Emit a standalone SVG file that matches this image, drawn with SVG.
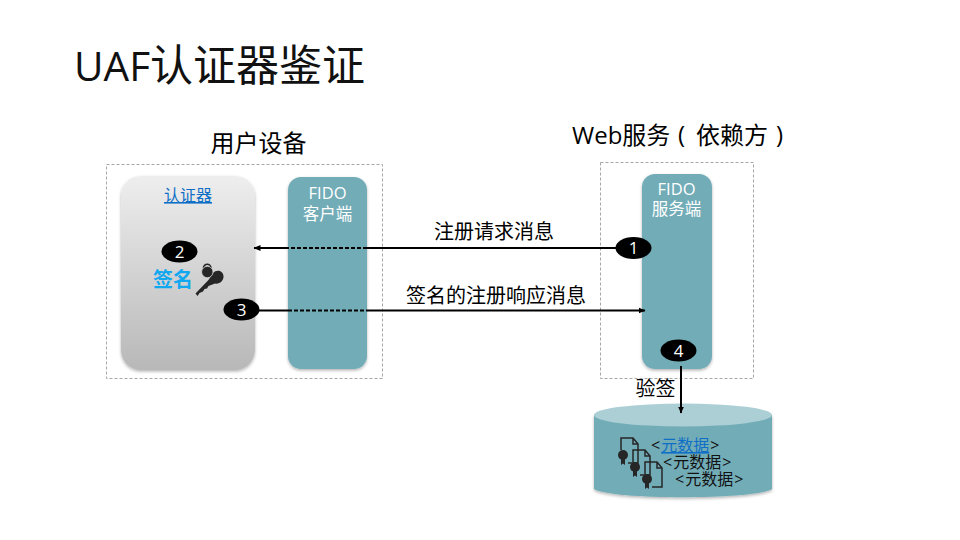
<svg xmlns="http://www.w3.org/2000/svg" width="960" height="540" viewBox="0 0 960 540">
<style>
text{font-family:"Open Sans","Noto Sans CJK SC",sans-serif}
.box{fill:none;stroke:#a6a6a6;stroke-width:1;stroke-dasharray:3 2}
.teal{fill:#72acb7}
.wt{fill:#fff;font-size:16.500px;text-anchor:middle}
.lbl{fill:#000;font-size:20px;text-anchor:middle}
.hd{fill:#000;font-size:24px}
.num{fill:#fff;font-size:17px;text-anchor:middle}
.meta{fill:#111;font-size:16px}
.link{fill:#0f6fc6;text-decoration:underline}
.ln{stroke:#000;stroke-width:2;fill:none}
.dash{stroke:#000;stroke-width:2;stroke-dasharray:4 2;fill:none}
.doc{fill:none;stroke:#262626;stroke-width:1.500}
</style>
<defs>
<linearGradient id="g" x1="0" y1="0" x2="0" y2="1"><stop offset="0" stop-color="#eeeeee"/><stop offset="1" stop-color="#b8b8b8"/></linearGradient>
<filter id="s" x="-10%" y="-10%" width="120%" height="120%"><feDropShadow dx="0" dy="1.500" stdDeviation="1.500" flood-color="#000" flood-opacity=".3"/></filter>
<marker id="a" markerUnits="userSpaceOnUse" markerWidth="7" markerHeight="7" refX="6.500" refY="3.500" orient="auto"><path d="M0 0.500L7 3.500L0 6.500Z" fill="#000"/></marker>
<g id="docicon"><path class="doc" d="M0 12V0H12L17 6V25H7M12 0V6H17"/><circle cx="2" cy="17" r="5" fill="#262626"/><path d="M0 21V27L2 25.500L4 27V21Z" fill="#262626"/></g>
</defs>
<text x="74" y="81" font-size="40.500" fill="#111">UAF<tspan font-size="43">认证器鉴证</tspan></text>
<g id="user-device">
<rect class="box" x="106.500" y="164.500" width="276" height="214"/>
<text class="hd" x="258.500" y="152" text-anchor="middle">用户设备</text>
</g>
<g id="web-service">
<rect class="box" x="600.500" y="162.500" width="153" height="216"/>
<text class="hd" x="572" y="144">Web服务</text>
<text class="hd" x="678" y="143">(</text>
<text class="hd" x="696" y="144">依赖方</text>
<text class="hd" x="776" y="143">)</text>
</g>
<g id="authenticator">
<rect x="121" y="176" width="134" height="194" rx="20" fill="url(#g)" filter="url(#s)"/>
<text x="188" y="201" class="link" font-size="16" text-anchor="middle">认证器</text>
<text x="173" y="287" font-size="20" font-weight="700" fill="#12a8ef" text-anchor="middle">签名</text>
<g id="key" fill="#262626">
<path d="M213 273C217 269 223 271 223.500 276C224 281 219 284.500 215 283.500L208.500 286L207 288.500L204.500 289L203 291.500L199.500 293L197.500 296L195.500 293.500L208 280.500C210 278 211 276 213 273Z"/>
<path d="M203.500 268a3.700 3.700 0 0 1 7.400 0" fill="none" stroke="#262626" stroke-width="1.600"/>
<circle cx="207.300" cy="272" r="5.700" stroke="#d2d2d2" stroke-width="0.800"/>
</g>
</g>
<g id="fido-client">
<rect class="teal" x="288" y="177" width="79" height="192" rx="13" filter="url(#s)"/>
<text class="wt" x="327.500" y="199">FIDO</text>
<text class="wt" x="327.500" y="220">客户端</text>
</g>
<g id="fido-server">
<rect class="teal" x="642" y="174" width="70" height="195" rx="13" filter="url(#s)"/>
<text class="wt" x="676.500" y="195">FIDO</text>
<text class="wt" x="676.500" y="215">服务端</text>
</g>
<g id="metadata-db">
<path d="M594 415V489C610 500 756 500 772 489V415Z" class="teal" filter="url(#s)"/>
<ellipse cx="683" cy="415" rx="89" ry="11.500" fill="#abcfd5"/>
<use href="#docicon" x="621" y="438"/>
<use href="#docicon" x="633" y="450"/>
<use href="#docicon" x="645" y="462"/>
<text class="meta" x="651" y="451">&lt;<tspan class="link" dx="1">元数据</tspan><tspan dx="1">&gt;</tspan></text>
<text class="meta" x="663" y="468">&lt;<tspan dx="1">元数据</tspan><tspan dx="1">&gt;</tspan></text>
<text class="meta" x="675" y="485">&lt;<tspan dx="1">元数据</tspan><tspan dx="1">&gt;</tspan></text>
</g>
<g id="connectors">
<path class="ln" d="M621 248H367"/>
<path class="dash" d="M367 248H288"/>
<path class="ln" d="M288 248H254" marker-end="url(#a)"/>
<path class="ln" d="M255 310.500H288"/>
<path class="dash" d="M288 310.500H367"/>
<path class="ln" d="M367 310.500H645" marker-end="url(#a)"/>
<path class="ln" d="M681 366V413" marker-end="url(#a)"/>
</g>
<text class="lbl" x="494" y="239">注册请求消息</text>
<text class="lbl" x="496" y="303">签名的注册响应消息</text>
<text class="lbl" x="655.500" y="396">验签</text>
<g id="step-1"><ellipse cx="633.500" cy="248" rx="18" ry="11" fill="#000"/><text class="num" x="633.500" y="254">1</text></g>
<g id="step-2"><ellipse cx="179.500" cy="251.500" rx="18" ry="11" fill="#000"/><text class="num" x="179.500" y="257.500">2</text></g>
<g id="step-3"><ellipse cx="241.500" cy="309.500" rx="18" ry="11" fill="#000"/><text class="num" x="241.500" y="315.500">3</text></g>
<g id="step-4"><ellipse cx="678.500" cy="350.500" rx="18" ry="11" fill="#000"/><text class="num" x="678.500" y="356.500">4</text></g>
</svg>
